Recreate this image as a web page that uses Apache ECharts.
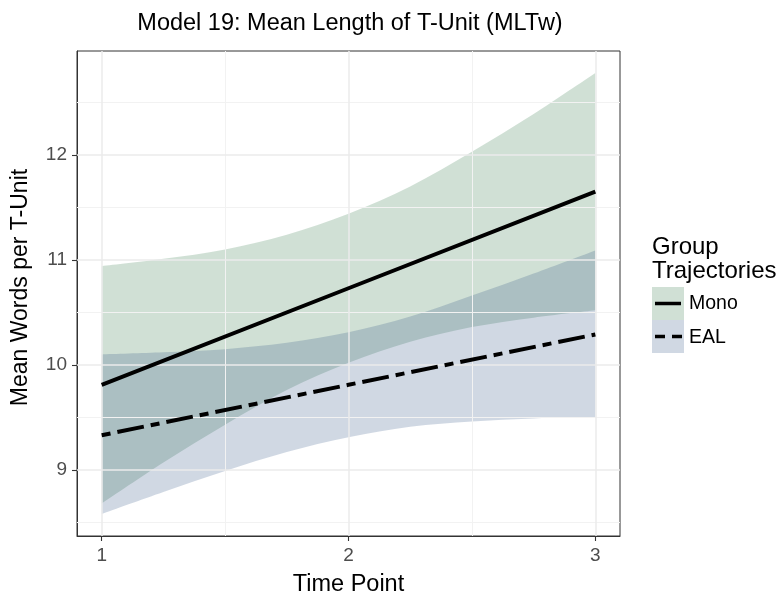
<!DOCTYPE html>
<html>
<head>
<meta charset="utf-8">
<script src="https://cdn.jsdelivr.net/npm/echarts@6/dist/echarts.min.js"></script>
<style>
  html, body { margin: 0; padding: 0; background: #ffffff; }
  #chart { width: 779px; height: 592px; }
</style>
</head>
<body>
<div id="chart"></div>
<script>
// Fitted trajectories (straight lines) at each time point
const timePoints = [1, 2, 3];
const monoFit = [9.81, 10.73, 11.65];
const ealFit = [9.33, 9.81, 10.29];

// Confidence ribbons, sampled along the time axis
const bandX = [1, 1.25, 1.5, 1.75, 2, 2.25, 2.5, 2.75, 3];
const monoUpper = [10.94, 11.01, 11.10, 11.24, 11.44, 11.70, 12.03, 12.39, 12.78];
const monoLower = [8.68, 9.07, 9.43, 9.76, 10.02, 10.22, 10.36, 10.45, 10.52];
const ealUpper = [10.10, 10.12, 10.15, 10.21, 10.31, 10.46, 10.66, 10.87, 11.09];
const ealLower = [8.58, 8.79, 8.99, 9.17, 9.31, 9.41, 9.46, 9.49, 9.50];

// Axis ticks and gridlines
const xTicks = [1, 2, 3];
const xMinor = [1.5, 2.5];
const yTicks = [9, 10, 11, 12];
const yMinor = [8.5, 9.5, 10.5, 11.5, 12.5];

const groups = ['Mono', 'EAL'];

const FONT = '"Liberation Sans", Arial, Helvetica, sans-serif';
const greenFill = 'rgba(31,107,55,0.21)';
const blueFill = 'rgba(31,69,122,0.21)';

const pairs = (xs, ys) => xs.map((x, i) => [x, ys[i]]);

// Catmull-Rom curve through pixel points, appended to a path
function curveThrough(ctx, p, moveFirst) {
  if (moveFirst) ctx.moveTo(p[0][0], p[0][1]); else ctx.lineTo(p[0][0], p[0][1]);
  for (let i = 0; i < p.length - 1; i++) {
    const p0 = p[Math.max(i - 1, 0)], p1 = p[i], p2 = p[i + 1], p3 = p[Math.min(i + 2, p.length - 1)];
    ctx.bezierCurveTo(
      p1[0] + (p2[0] - p0[0]) / 6, p1[1] + (p2[1] - p0[1]) / 6,
      p2[0] - (p3[0] - p1[0]) / 6, p2[1] - (p3[1] - p1[1]) / 6,
      p2[0], p2[1]
    );
  }
}

const Ribbon = echarts.graphic.extendShape({
  shape: { upper: [], lower: [] },
  buildPath: function (ctx, shape) {
    if (!shape.upper.length) return;
    curveThrough(ctx, shape.upper, true);
    curveThrough(ctx, shape.lower.slice().reverse(), false);
    ctx.closePath();
  }
});
echarts.graphic.registerShape('ribbon', Ribbon);

function ribbonSeries(name, lower, upper, color) {
  return {
    type: 'custom', name: name, silent: true, z: 2,
    data: [0],
    renderItem: function (params, api) {
      return {
        type: 'ribbon',
        shape: {
          upper: bandX.map((x, i) => api.coord([x, upper[i]])),
          lower: bandX.map((x, i) => api.coord([x, lower[i]]))
        },
        style: { fill: color, stroke: null }
      };
    }
  };
}

const gridLines = [].concat(
  xMinor.map(v => ({ xAxis: v, lineStyle: { color: '#F2F2F2', width: 1, type: 'solid' } })),
  yMinor.map(v => ({ yAxis: v, lineStyle: { color: '#F2F2F2', width: 1, type: 'solid' } })),
  xTicks.map(v => ({ xAxis: v, lineStyle: { color: '#EBEBEB', width: 1.5, type: 'solid' } })),
  yTicks.map(v => ({ yAxis: v, lineStyle: { color: '#EBEBEB', width: 1.5, type: 'solid' } }))
);

const chart = echarts.init(document.getElementById('chart'), null, { renderer: 'canvas' });

chart.setOption({
  animation: false,
  backgroundColor: '#ffffff',
  textStyle: { fontFamily: FONT },
  title: {
    text: 'Model 19: Mean Length of T-Unit (MLTw)',
    left: 345, top: 7, textAlign: 'center',
    textStyle: { fontFamily: FONT, fontSize: 23.5, fontWeight: 'normal', color: '#000000' }
  },
  grid: {
    left: 77, right: 159, top: 51, bottom: 56,
    containLabel: false, outerBoundsMode: 'none',
    show: true, borderColor: '#333333', borderWidth: 1, backgroundColor: '#ffffff'
  },
  xAxis: {
    type: 'value', min: 0.9, max: 3.1,
    name: 'Time Point', nameLocation: 'middle', nameGap: 37,
    nameTextStyle: { fontFamily: FONT, fontSize: 23.5, color: '#000000' },
    axisLine: { show: true, lineStyle: { color: '#333333', width: 1 } },
    axisTick: { show: true, length: 5, customValues: xTicks, lineStyle: { color: '#333333', width: 1.1 } },
    axisLabel: {
      customValues: xTicks, margin: 10,
      fontFamily: FONT, fontSize: 19, color: '#4D4D4D',
      formatter: v => (xTicks.indexOf(v) >= 0 ? String(v) : '')
    },
    splitLine: { show: false }
  },
  yAxis: {
    type: 'value', min: 8.37, max: 12.99,
    name: 'Mean Words per T-Unit', nameLocation: 'middle', nameGap: 45, nameRotate: 90,
    nameTextStyle: { fontFamily: FONT, fontSize: 23, color: '#000000', padding: [0, 0, 0, 12] },
    axisLine: { show: true, lineStyle: { color: '#333333', width: 1 } },
    axisTick: { show: true, length: 5, customValues: yTicks, lineStyle: { color: '#333333', width: 1.1 } },
    axisLabel: {
      customValues: yTicks, margin: 10,
      fontFamily: FONT, fontSize: 19, color: '#4D4D4D',
      formatter: v => (yTicks.indexOf(v) >= 0 ? String(v) : '')
    },
    splitLine: { show: false }
  },
  series: [
    {
      type: 'line', data: [], silent: true, z: 1,
      markLine: { silent: true, symbol: 'none', label: { show: false }, data: gridLines, animation: false }
    },
    ribbonSeries(groups[0] + ' band', monoLower, monoUpper, greenFill),
    ribbonSeries(groups[1] + ' band', ealLower, ealUpper, blueFill),
    {
      name: groups[0], type: 'line', data: pairs(timePoints, monoFit),
      symbol: 'none', z: 5, silent: true,
      lineStyle: { color: '#000000', width: 4, cap: 'butt' }
    },
    {
      name: groups[1], type: 'line', data: pairs(timePoints, ealFit),
      symbol: 'none', z: 5, silent: true,
      lineStyle: { color: '#000000', width: 4, type: [27, 7, 9, 7], dashOffset: 34, cap: 'butt' }
    }
  ],
  graphic: [
    { type: 'text', left: 652, top: 235, style: { text: 'Group', font: '24px ' + FONT, fill: '#000000' } },
    { type: 'text', left: 652, top: 259, style: { text: 'Trajectories', font: '24px ' + FONT, fill: '#000000' } },
    { type: 'rect', shape: { x: 652, y: 287, width: 32, height: 33 }, style: { fill: greenFill } },
    { type: 'rect', shape: { x: 652, y: 320, width: 32, height: 33 }, style: { fill: blueFill } },
    { type: 'line', shape: { x1: 655, y1: 303.5, x2: 681, y2: 303.5 }, style: { stroke: '#000000', lineWidth: 3.5 } },
    { type: 'line', shape: { x1: 655, y1: 336.5, x2: 682, y2: 336.5 }, style: { stroke: '#000000', lineWidth: 3.5, lineDash: [10, 7] } },
    { type: 'text', x: 689, y: 304, style: { text: groups[0], font: '19.5px ' + FONT, fill: '#000000', verticalAlign: 'middle' } },
    { type: 'text', x: 689, y: 338, style: { text: groups[1], font: '19.5px ' + FONT, fill: '#000000', verticalAlign: 'middle' } }
  ]
});
</script>
</body>
</html>
